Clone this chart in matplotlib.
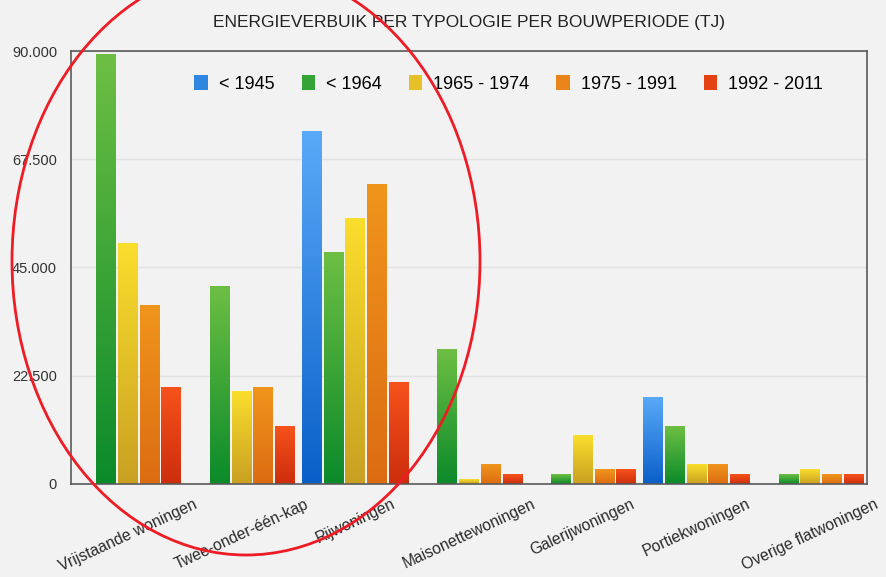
import matplotlib.pyplot as plt
import numpy as np
from matplotlib.colors import LinearSegmentedColormap
from matplotlib.patches import Ellipse, Patch
from matplotlib.ticker import FuncFormatter

plt.rcParams['font.family'] = ['Liberation Sans', 'DejaVu Sans']

categories = ['Vrijstaande woningen', 'Twee-onder-één-kap', 'Rijwoningen',
              'Maisonettewoningen', 'Galerijwoningen', 'Portiekwoningen',
              'Overige flatwoningen']
periods = ['< 1945', '< 1964', '1965 - 1974', '1975 - 1991', '1992 - 2011']
v1945 = [0, 0, 73200, 0, 0, 18000, 0]
v1964 = [89300, 41000, 48200, 28000, 2000, 12000, 2000]
v1974 = [50000, 19200, 55100, 1000, 10000, 4000, 3000]
v1991 = [37000, 20000, 62300, 4000, 3000, 4000, 2000]
v2011 = [20000, 12000, 21200, 2000, 3000, 2000, 2000]
series = [v1945, v1964, v1974, v1991, v2011]

# (top colour, bottom colour) per series
grads = [('#59aaf8', '#0a5fc8'),
         ('#6dbf43', '#0b8a2a'),
         ('#fade2c', '#c9a022'),
         ('#f0951c', '#dc6c12'),
         ('#f7521c', '#cc2e0c')]
mids = ['#2f86e0', '#35a436', '#e6c028', '#e8841a', '#e54214']

fig = plt.figure(figsize=(8.86, 5.77), dpi=100)
fig.patch.set_facecolor('#f2f2f2')
ax = fig.add_axes([0.0801, 0.1612, 0.8985, 0.7504])
ax.set_facecolor('#f2f2f2')

x = np.arange(len(categories))
pitch = 0.191
width = 0.174
grad = np.linspace(1, 0, 256).reshape(-1, 1)

for i, vals in enumerate(series):
    cmap = LinearSegmentedColormap.from_list('g%d' % i, [grads[i][1], grads[i][0]])
    bars = ax.bar(x + (i - 2) * pitch, vals, width, facecolor='none',
                  linewidth=0, zorder=3)
    for b in bars:
        h = b.get_height()
        if h <= 0:
            continue
        x0 = b.get_x()
        ax.imshow(grad, extent=[x0, x0 + b.get_width(), 0, h], aspect='auto',
                  cmap=cmap, vmin=0, vmax=1, zorder=2, interpolation='bilinear')

ax.set_xlim(-0.5, len(categories) - 0.5)
ax.set_ylim(0, 90000)
ax.set_yticks([0, 22500, 45000, 67500, 90000])
ax.yaxis.set_major_formatter(FuncFormatter(lambda v, p: f'{v:,.0f}'.replace(',', '.')))
ax.grid(axis='y', color='#e2e2e2', linewidth=1.0, zorder=0)
ax.set_axisbelow(True)
ax.tick_params(axis='y', length=0, pad=10, labelsize=10.5, labelcolor='#333333')
ax.tick_params(axis='x', length=0, pad=9, labelsize=11.3, labelcolor='#2a2a2a')
ax.set_xticks(x)
ax.set_xticklabels(categories, rotation=25, ha='center', va='top')
for s in ax.spines.values():
    s.set_color('#5a5a5a')
    s.set_linewidth(1.2)

handles = [Patch(facecolor=c, edgecolor='none') for c in mids]
ax.legend(handles, periods, ncol=5, loc='center', bbox_to_anchor=(0.55, 0.924),
          frameon=False, fontsize=13, handlelength=0.75, handleheight=0.9,
          handletextpad=0.6, columnspacing=1.5)

fig.text(469 / 886, 1 - 22 / 577, 'ENERGIEVERBUIK PER TYPOLOGIE PER BOUWPERIODE (TJ)',
         ha='center', va='center', fontsize=12.5, color='#222222')

# red ellipse drawn over the left part of the chart
ell = Ellipse((246 / 886, 1 - 261 / 577), 468 / 886, 588 / 577,
              transform=fig.transFigure, fill=False, edgecolor='#ee1c25',
              linewidth=2.0, zorder=10)
fig.patches.append(ell)

fig.savefig('out.png', dpi=100, facecolor=fig.get_facecolor())
